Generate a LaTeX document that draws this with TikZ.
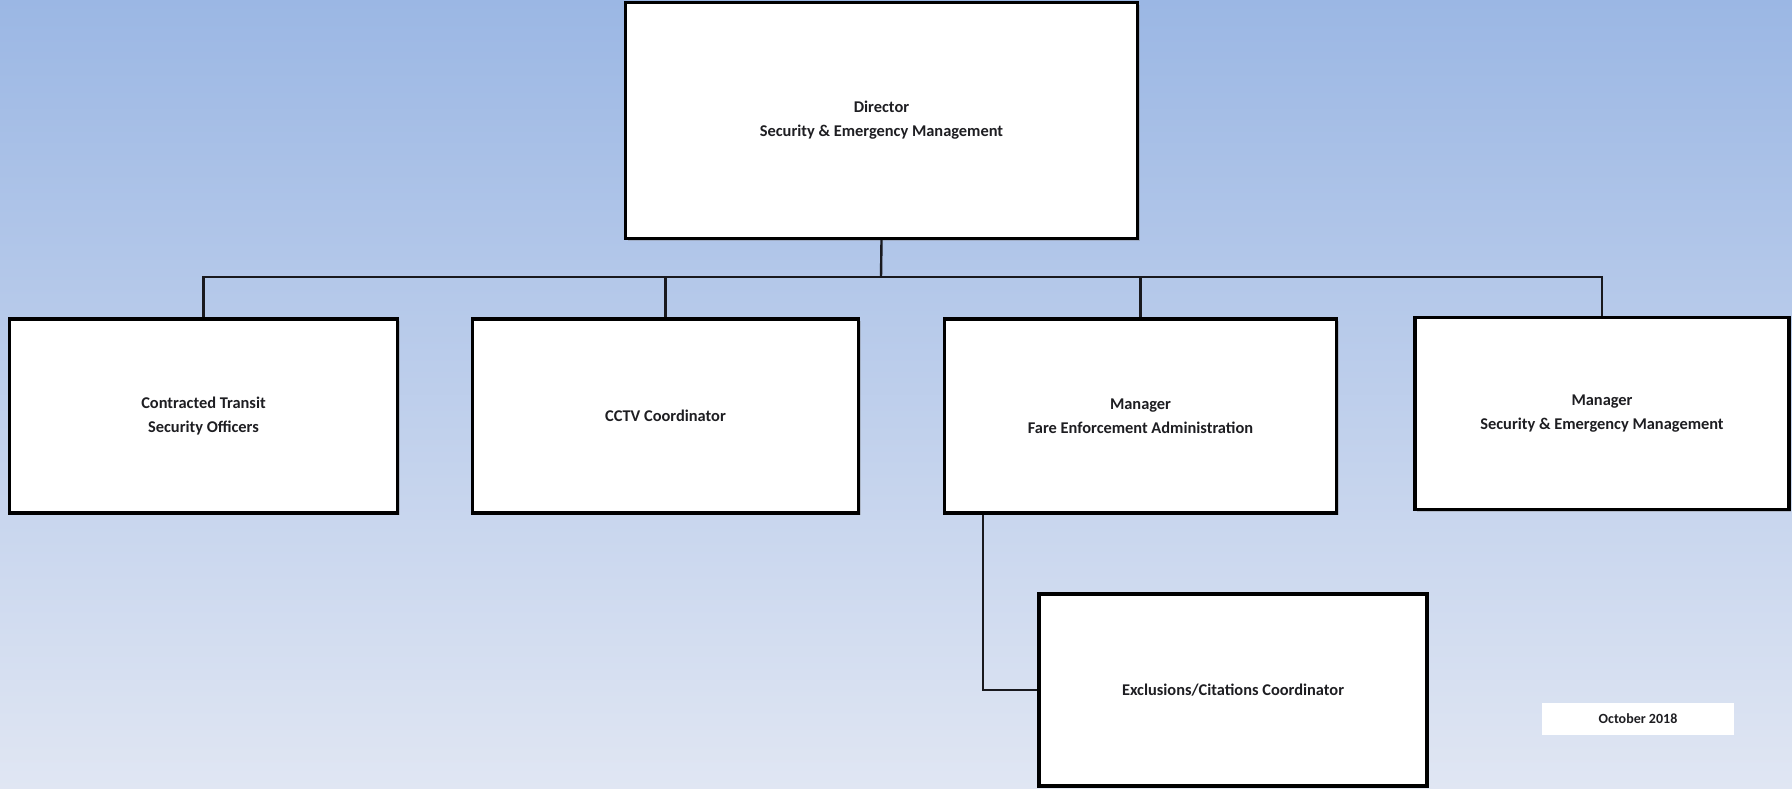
\documentclass[tikz,border=0pt]{standalone}
\usepackage{fontspec}
\setmainfont{Carlito}
\usetikzlibrary{shadows}
\definecolor{bgtop}{RGB}{155,183,228}
\definecolor{bgbottom}{RGB}{224,230,243}
\definecolor{inktext}{RGB}{30,30,34}
\definecolor{linkcol}{RGB}{25,25,30}
\begin{document}
\begin{tikzpicture}[x=0.5pt,y=-0.5pt,
  orgbox/.style={draw=black, line width=1.7pt, fill=white, rectangle,
    align=center, font=\fontsize{8.2}{12}\selectfont\bfseries, text=inktext,
    inner sep=0pt,
    drop shadow={opacity=0.35, shadow xshift=1pt, shadow yshift=-1pt}},
  datebox/.style={fill=white, rectangle, inner sep=0pt,
    font=\fontsize{7}{9}\selectfont\bfseries, text=inktext},
  link/.style={draw=linkcol, line width=1.2pt}]
  % page background
  \shade[top color=bgtop, bottom color=bgbottom] (0,0) rectangle (1792,788);
  \useasboundingbox (0,0) rectangle (1792,788);

  % boxes
  \node[orgbox, minimum width=256pt, minimum height=118pt] (dir) at (881.5,120.5)
    {Director\\Security \& Emergency Management};
  \node[orgbox, minimum width=194pt, minimum height=97pt] (cto) at (203.5,416)
    {Contracted Transit\\Security Officers};
  \node[orgbox, minimum width=193pt, minimum height=97pt] (cctv) at (665.5,416)
    {CCTV Coordinator};
  \node[orgbox, minimum width=196pt, minimum height=97pt] (fare) at (1140.5,416)
    {Manager\\Fare Enforcement Administration};
  \node[orgbox, minimum width=187pt, minimum height=96pt] (sem) at (1602,413.5)
    {Manager\\Security \& Emergency Management};
  \node[orgbox, minimum width=194pt, minimum height=96pt] (excl) at (1233,690)
    {Exclusions/Citations Coordinator};
  \node[datebox, minimum width=96pt, minimum height=16pt] (date) at (1638,719)
    {October 2018};

  % reporting lines
  \coordinate (bar) at (881,277);
  \draw[link] (dir.south) -- (bar);
  \draw[link] (cto.north) |- (bar);
  \draw[link] (cctv.north) |- (bar);
  \draw[link] (fare.north) |- (bar);
  \draw[link] (sem.north) |- (bar);
  \draw[link] ([xshift=20pt]fare.south west) |- (excl.west);
\end{tikzpicture}
\end{document}
